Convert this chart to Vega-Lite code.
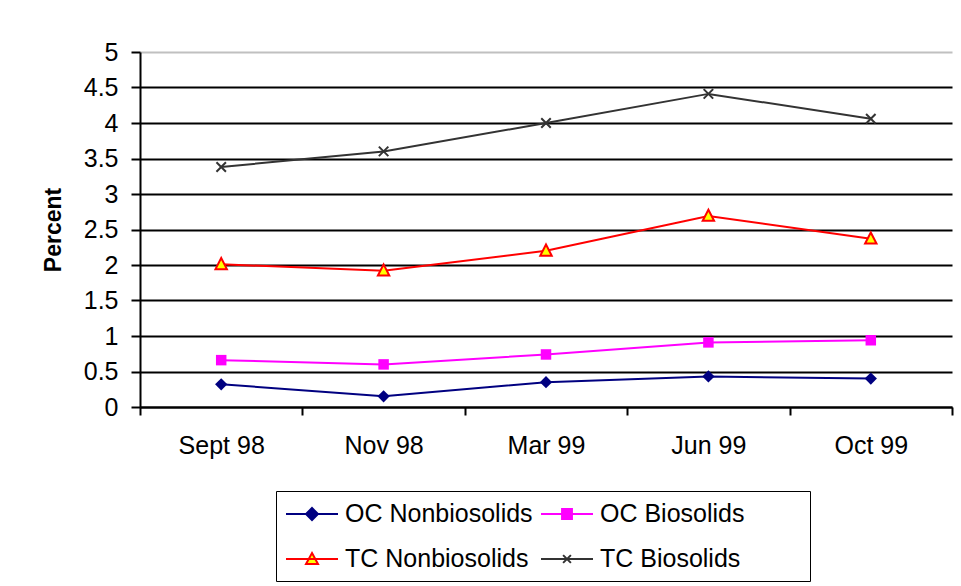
{
  "$schema": "https://vega.github.io/schema/vega-lite/v6.json",
  "width": 812,
  "height": 355,
  "autosize": {"type": "none"},
  "padding": {"left": 140, "top": 52, "right": 9, "bottom": 179},
  "background": "white",
  "config": {
    "font": "Liberation Sans",
    "view": {"stroke": null},
    "axis": {"labelFont": "Liberation Sans", "titleFont": "Liberation Sans", "labelColor": "black", "titleColor": "black"}
  },
  "data": {
    "values": [
      {"month": "Sept 98", "series": "OC Nonbiosolids", "value": 0.32},
      {"month": "Nov 98", "series": "OC Nonbiosolids", "value": 0.15},
      {"month": "Mar 99", "series": "OC Nonbiosolids", "value": 0.35},
      {"month": "Jun 99", "series": "OC Nonbiosolids", "value": 0.43},
      {"month": "Oct 99", "series": "OC Nonbiosolids", "value": 0.40},
      {"month": "Sept 98", "series": "OC Biosolids", "value": 0.66},
      {"month": "Nov 98", "series": "OC Biosolids", "value": 0.60},
      {"month": "Mar 99", "series": "OC Biosolids", "value": 0.74},
      {"month": "Jun 99", "series": "OC Biosolids", "value": 0.91},
      {"month": "Oct 99", "series": "OC Biosolids", "value": 0.94},
      {"month": "Sept 98", "series": "TC Nonbiosolids", "value": 2.01},
      {"month": "Nov 98", "series": "TC Nonbiosolids", "value": 1.92},
      {"month": "Mar 99", "series": "TC Nonbiosolids", "value": 2.2},
      {"month": "Jun 99", "series": "TC Nonbiosolids", "value": 2.69},
      {"month": "Oct 99", "series": "TC Nonbiosolids", "value": 2.37},
      {"month": "Sept 98", "series": "TC Biosolids", "value": 3.38},
      {"month": "Nov 98", "series": "TC Biosolids", "value": 3.6},
      {"month": "Mar 99", "series": "TC Biosolids", "value": 4.0},
      {"month": "Jun 99", "series": "TC Biosolids", "value": 4.41},
      {"month": "Oct 99", "series": "TC Biosolids", "value": 4.06}
    ]
  },
  "encoding": {
    "x": {
      "field": "month", "type": "nominal",
      "sort": ["Sept 98", "Nov 98", "Mar 99", "Jun 99", "Oct 99"],
      "scale": {"type": "band", "paddingInner": 0, "paddingOuter": 0},
      "axis": {
        "title": null, "labelAngle": 0, "labelFontSize": 25, "labelPadding": 18,
        "tickBand": "extent", "tickSize": 8, "tickColor": "black", "tickWidth": 2,
        "domainColor": "black", "domainWidth": 2, "grid": false
      }
    },
    "y": {
      "field": "value", "type": "quantitative",
      "scale": {"domain": [0, 5], "nice": false},
      "axis": {
        "title": "Percent", "titleFontSize": 23, "titleFontWeight": "bold", "titlePadding": 18,
        "values": [0, 0.5, 1, 1.5, 2, 2.5, 3, 3.5, 4, 4.5, 5], "format": "~g",
        "labelFontSize": 25, "labelPadding": 13, "tickSize": 9, "tickColor": "black", "tickWidth": 2,
        "domainColor": "black", "domainWidth": 2,
        "grid": true,
        "gridColor": {"condition": {"test": "datum.value == 5", "value": "#c0c0c0"}, "value": "black"},
        "gridWidth": 2, "gridOpacity": 1
      }
    }
  },
  "layer": [
    {
      "mark": {"type": "line", "strokeWidth": 2},
      "encoding": {
        "color": {
          "field": "series", "type": "nominal",
          "sort": ["OC Nonbiosolids", "OC Biosolids", "TC Nonbiosolids", "TC Biosolids"],
          "scale": {
            "domain": ["OC Nonbiosolids", "OC Biosolids", "TC Nonbiosolids", "TC Biosolids"],
            "range": ["#000080", "#ff00ff", "#ff0000", "#333333"]
          },
          "legend": {
            "title": "\u00a0", "titleOrient": "right", "titlePadding": 57, "titleFontSize": 2,
            "orient": "none", "legendX": 136, "legendY": 439,
            "direction": "horizontal", "columns": 2, "columnPadding": 4, "rowPadding": 18,
            "strokeColor": "black", "padding": 9,
            "labelFontSize": 25, "labelColor": "black", "labelOffset": 32, "labelLimit": 400,
            "symbolSize": 676, "symbolStrokeWidth": 2,
            "encode": {
              "symbols": {
                "update": {
                  "shape": {"signal": "datum.value == 'OC Nonbiosolids' ? 'M-1,0L3,0M1,-0.46L1.46,0L1,0.46L0.54,0Z' : datum.value == 'OC Biosolids' ? 'M-1,0L3,0M0.62,-0.38L1.38,-0.38L1.38,0.38L0.62,0.38Z' : datum.value == 'TC Nonbiosolids' ? 'M-1,0L3,0M1,-0.46L1.46,0.38L0.54,0.38Z' : 'M-1,0L3,0M0.7,-0.3L1.3,0.3M0.7,0.3L1.3,-0.3'"},
                  "size": {"value": 676},
                  "fill": {"signal": "datum.value == 'OC Nonbiosolids' ? '#000080' : datum.value == 'OC Biosolids' ? '#ff00ff' : datum.value == 'TC Nonbiosolids' ? '#ffff00' : 'transparent'"},
                  "stroke": {"signal": "datum.value == 'OC Nonbiosolids' ? '#000080' : datum.value == 'OC Biosolids' ? '#ff00ff' : datum.value == 'TC Nonbiosolids' ? '#ff0000' : '#333333'"},
                  "strokeWidth": {"value": 2},
                  "opacity": {"value": 1}
                }
              }
            }
          }
        }
      }
    },
    {
      "transform": [{"filter": "datum.series == 'OC Nonbiosolids'"}],
      "mark": {"type": "point", "shape": "M0,-1L1,0L0,1L-1,0Z", "size": 150, "filled": true, "color": "#000080", "opacity": 1}
    },
    {
      "transform": [{"filter": "datum.series == 'OC Biosolids'"}],
      "mark": {"type": "point", "shape": "M-1,-1L1,-1L1,1L-1,1Z", "size": 110, "filled": true, "color": "#ff00ff", "opacity": 1}
    },
    {
      "transform": [{"filter": "datum.series == 'TC Nonbiosolids'"}],
      "mark": {"type": "point", "shape": "M0,-1.1L1,0.85L-1,0.85Z", "size": 130, "fill": "#ffff00", "stroke": "#ff0000", "strokeWidth": 2, "opacity": 1}
    },
    {
      "transform": [{"filter": "datum.series == 'TC Biosolids'"}],
      "mark": {"type": "point", "shape": "M-1,-1L1,1M-1,1L1,-1", "size": 90, "filled": false, "stroke": "#333333", "strokeWidth": 2, "opacity": 1}
    }
  ]
}
